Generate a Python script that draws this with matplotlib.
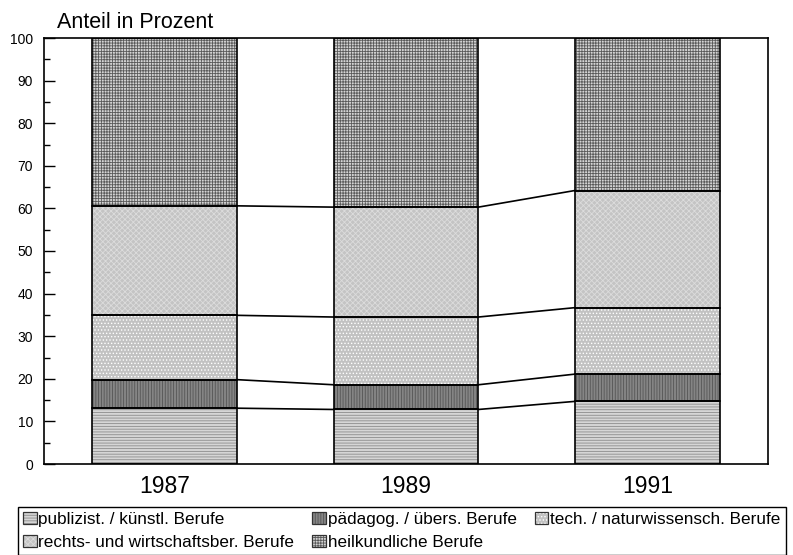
import numpy as np
import matplotlib
matplotlib.use('Agg')
import matplotlib.pyplot as plt
from matplotlib.patches import Patch
from matplotlib.legend_handler import HandlerTuple

plt.rcParams['font.family'] = ['Liberation Sans', 'DejaVu Sans']
plt.rcParams['hatch.linewidth'] = 0.6

# ---------------------------------------------------------------------------
# Data (Anteil in Prozent)
# ---------------------------------------------------------------------------
years = ['1987', '1989', '1991']
publizist = [13.1, 12.8, 14.7]
paedagog = [6.7, 5.8, 6.4]
tech = [15.1, 15.9, 15.6]
rechts = [25.7, 25.8, 27.5]
heilkunde = [39.4, 39.7, 35.8]

labels = ['publizist. / künstl. Berufe', 'pädagog. / übers. Berufe',
          'tech. / naturwissensch. Berufe', 'rechts- und wirtschaftsber. Berufe',
          'heilkundliche Berufe']
series = [publizist, paedagog, tech, rechts, heilkunde]

# face colour, hatch, hatch colour
styles = [
    ('#d6d6d6', '------', '#8c8c8c'),
    ('#858585', '||||||', '#555555'),
    ('#c2c2c2', '.....', '#ffffff'),
    ('#c4c4c4', 'xxxxxx', '#dcdcdc'),
    ('#d4d4d4', '++++++', '#5a5a5a'),
]

fig = plt.figure(figsize=(7.93, 5.55), dpi=100)
ax = fig.add_axes([44 / 793, 1 - 464 / 555, (768 - 44) / 793, (464 - 38) / 555])

x = np.arange(len(years))
width = 0.6
bottom = np.zeros(len(years))
tops = []
handles = []
for vals, (fc, hatch, hc) in zip(series, styles):
    vals = np.array(vals)
    ax.bar(x, vals, width, bottom=bottom, color=fc, hatch=hatch,
           edgecolor=hc, linewidth=0, zorder=2)
    ax.bar(x, vals, width, bottom=bottom, fill=False,
           edgecolor='black', linewidth=1.2, zorder=3)
    bottom = bottom + vals
    tops.append(bottom.copy())
    handles.append((Patch(facecolor=fc, hatch=hatch, edgecolor=hc, linewidth=0),
                    Patch(fill=False, edgecolor='#333333', linewidth=0.9)))

# connecting lines between the segment borders
for t in tops[:-1]:
    for i in range(len(years) - 1):
        ax.plot([x[i] + width / 2, x[i + 1] - width / 2], [t[i], t[i + 1]],
                color='black', linewidth=1.2, zorder=1)

ax.set_xlim(-0.5, len(years) - 0.5)
ax.set_ylim(0, 100)
ax.set_yticks(np.arange(0, 101, 10))
ax.set_yticks(np.arange(5, 100, 10), minor=True)
ax.tick_params(axis='y', which='major', direction='in', length=8, width=1,
               labelsize=10, pad=8)
ax.tick_params(axis='y', which='minor', direction='in', length=4.5, width=1)
ax.set_xticks(x)
ax.set_xticklabels(years, fontsize=16.5)
ax.tick_params(axis='x', length=0, pad=8)
for sp in ax.spines.values():
    sp.set_linewidth(1.2)

fig.text(57 / 793, 1 - 28 / 555, 'Anteil in Prozent', fontsize=15.5,
         va='baseline', ha='left')

# legend filled row-wise: reorder for column-major filling
order = [0, 3, 1, 4, 2]
leg = fig.legend([handles[i] for i in order], [labels[i] for i in order],
                 handler_map={tuple: HandlerTuple(ndivide=1, pad=0)},
                 loc='upper left', bbox_to_anchor=(18 / 793, 1 - 507 / 555),
                 ncol=3, fontsize=12.3, frameon=True, fancybox=False,
                 edgecolor='black', framealpha=1, borderpad=0.3,
                 handlelength=0.8, handleheight=0.7, handletextpad=0.1,
                 columnspacing=1.05, labelspacing=0.45, borderaxespad=0)
leg.get_frame().set_linewidth(1.0)

fig.savefig('out.png', dpi=100)
